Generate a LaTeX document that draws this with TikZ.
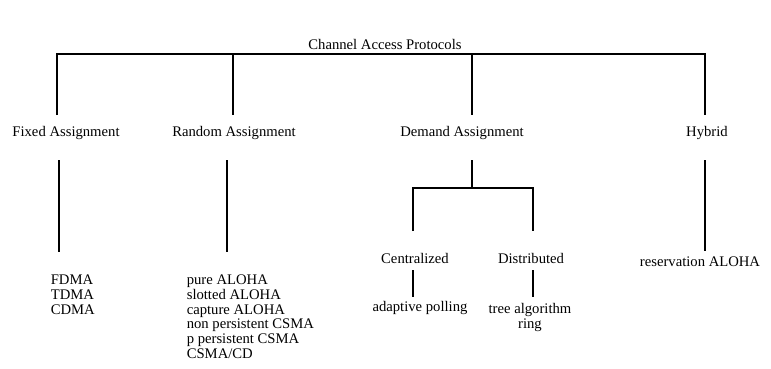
\documentclass[tikz,border=0pt]{standalone}
\usepackage{fontspec}
\setmainfont{Liberation Serif}
\tikzset{every picture/.style={line width=1.2pt}}
\tikzset{lbl/.style={inner sep=0.75pt, font=\fontsize{11}{11.1}\selectfont, align=left}}

\begin{document}
\begin{tikzpicture}[x=0.75pt,y=0.75pt,yscale=-1,xscale=1]
    \useasboundingbox (0,0) rectangle (771,368);
    % Text Node
    \draw (385,44) node (root) [lbl] {Channel Access Protocols};
    % Text Node
    \draw (66,133) node (fixed) [lbl] {Fixed Assignment};
    \draw (234,133) node (random) [lbl] {Random Assignment};
    \draw (462,133) node (demand) [lbl] {Demand Assignment};
    \draw (707,133) node (hybrid) [lbl] {Hybrid};
    % Text Node
    \draw (49,273) node (fixedlist) [lbl, anchor=north west] {FDMA\\TDMA\\CDMA};
    \draw (185,273) node (randomlist) [lbl, anchor=north west] {pure ALOHA\\slotted ALOHA\\capture ALOHA\\non persistent CSMA\\p persistent CSMA\\CSMA/CD};
    % Text Node
    \draw (415,258) node (central) [lbl] {Centralized};
    \draw (531,258) node (distrib) [lbl] {Distributed};
    \draw (420,308) node (polling) [lbl] {adaptive polling};
    \draw (530,302) node (tree) [lbl, anchor=north, align=center] {tree algorithm\\ring};
    \draw (700,262) node (reserv) [lbl] {reservation ALOHA};
    % Ends
    \coordinate (top1) at (57,54);
    \coordinate (top2) at (233,54);
    \coordinate (top3) at (472,54);
    \coordinate (top4) at (705,54);
    \coordinate (foot1) at (57,115);
    \coordinate (foot2) at (233,115);
    \coordinate (foot3) at (472,115);
    \coordinate (foot4) at (705,115);
    \coordinate (fixedup) at (59,160);
    \coordinate (fixeddown) at (59,252);
    \coordinate (randomup) at (227,160);
    \coordinate (randomdown) at (227,252);
    \coordinate (hybridup) at (705,160);
    \coordinate (hybriddown) at (705,251);
    \coordinate (demandup) at (472,160);
    \coordinate (fork) at (472,188);
    \coordinate (forkl) at (413,188);
    \coordinate (forkr) at (533,188);
    \coordinate (centralup) at (413,231);
    \coordinate (distribup) at (533,231);
    \coordinate (centraldown) at (413,270);
    \coordinate (centralfoot) at (413,297);
    \coordinate (distribdown) at (533,270);
    \coordinate (distribfoot) at (533,297);
    % Connection
    \draw [line width=1.5pt] (foot1) -- (top1) -- (top4) -- (foot4);
    \draw (top2) -- (foot2);
    \draw (top3) -- (foot3);
    % Connection
    \draw (fixedup) -- (fixeddown);
    \draw (randomup) -- (randomdown);
    \draw (hybridup) -- (hybriddown);
    % Connection
    \draw (demandup) -- (fork);
    \draw (centralup) -- (forkl) -- (forkr) -- (distribup);
    \draw (centraldown) -- (centralfoot);
    \draw (distribdown) -- (distribfoot);
\end{tikzpicture}
\end{document}
